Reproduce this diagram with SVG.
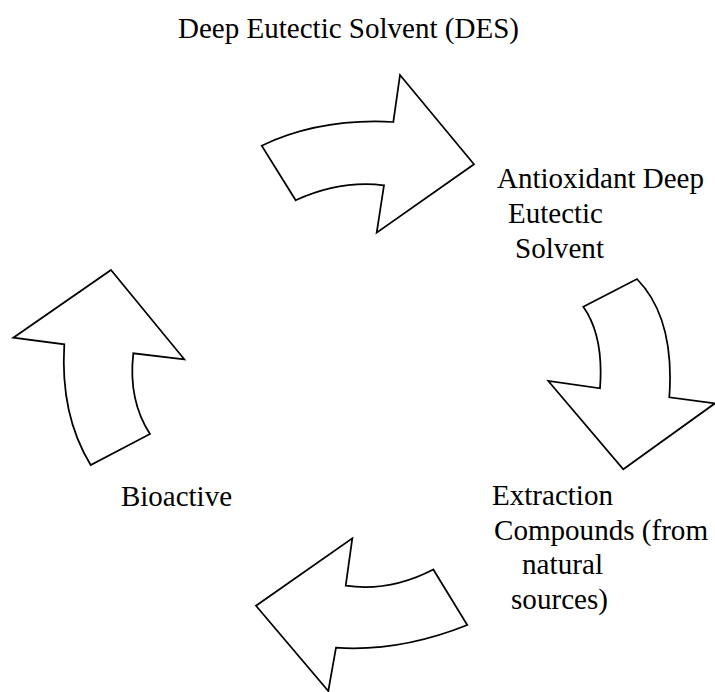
<svg xmlns="http://www.w3.org/2000/svg" width="715" height="692" viewBox="0 0 715 692">
<style>
.arr{fill:#fff;stroke:#000;stroke-width:1.75;stroke-linejoin:miter}
</style>
<rect width="715" height="692" fill="#fff"/>
<g id="connectors">
<path id="arrow-top" class="arr" d="M261.7,145.7 Q320,118 393.3,122 L400,75 L474,164.3 L376.7,232.7 L384,185.3 Q340,180 295.7,200.3 Z"/>
<path id="arrow-right" class="arr" d="M583.3,306.7 L637,279 Q675,318 669.3,397.3 L715,403.3 L623.3,469.3 L548.3,381 L600,388.3 Q604,336 583.3,306.7 Z"/>
<path id="arrow-bottom" class="arr" d="M352.3,538.3 L345.7,585.7 Q390,592 433.3,569.5 L467.3,625 Q400,652 336,647.7 L328.3,691 L256,605.7 Z"/>
<path id="arrow-left" class="arr" d="M111,270 L184.3,359.3 L133.3,353.3 Q128,400 150,434 L90.7,465 Q60,415 64.3,344.3 L13.3,337.7 Z"/>
</g>
<g font-family="'Liberation Serif', 'Times New Roman', Times, Tinos, 'Noto Serif', 'DejaVu Serif', serif" font-size="29" fill="#000">
<g id="node-des"><text x="178" y="38" textLength="341" lengthAdjust="spacingAndGlyphs">Deep Eutectic Solvent (DES)</text></g>
<g id="node-antioxidant"><text x="497" y="188" textLength="207" lengthAdjust="spacingAndGlyphs">Antioxidant Deep</text><text x="508" y="223" textLength="95" lengthAdjust="spacingAndGlyphs">Eutectic</text><text x="515" y="258" textLength="89" lengthAdjust="spacingAndGlyphs">Solvent</text></g>
<g id="node-extraction"><text x="492" y="505" textLength="121" lengthAdjust="spacingAndGlyphs">Extraction</text><text x="494" y="540" textLength="214" lengthAdjust="spacingAndGlyphs">Compounds (from</text><text x="522" y="574" textLength="81" lengthAdjust="spacingAndGlyphs">natural</text><text x="511" y="609" textLength="97" lengthAdjust="spacingAndGlyphs">sources)</text></g>
<g id="node-bioactive"><text x="121" y="506" textLength="111" lengthAdjust="spacingAndGlyphs">Bioactive</text></g>
</g>
</svg>
